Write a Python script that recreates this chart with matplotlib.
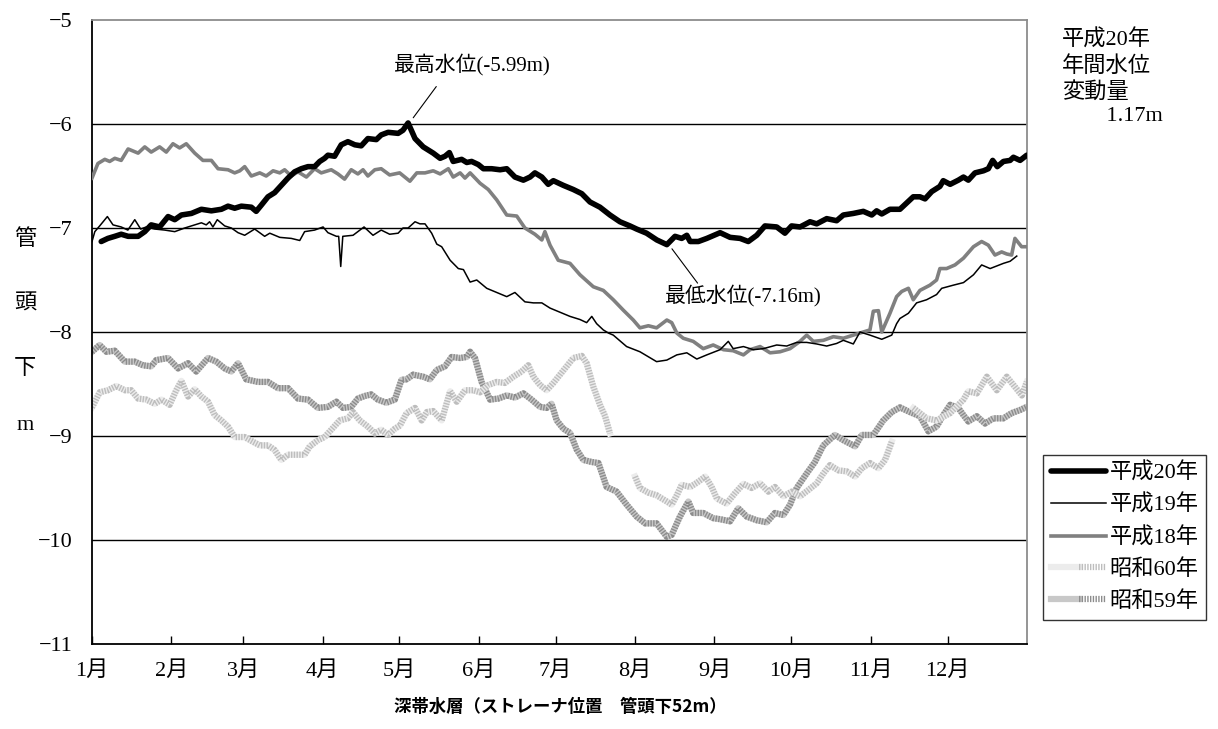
import numpy as np
import matplotlib
matplotlib.use('Agg')
import matplotlib.pyplot as plt
from matplotlib.legend_handler import HandlerTuple

plt.rcParams['font.family'] = ['Liberation Serif', 'Noto Sans CJK JP']

nan = np.nan

# day of year (0 = 1月1日), water level below pipe head [m]
h20_days = [3.6, 6.2, 8.9, 11.4, 14.1, 18.0, 20.6, 23.1, 26.4, 29.7, 32.3, 34.9, 38.8, 42.7, 46.6,
            50.5, 53.1, 55.7, 58.3, 62.2, 64.1, 66.1, 68.7, 71.3, 73.9, 76.5, 79.1, 81.7, 84.3, 86.9,
            88.9, 90.8, 92.1, 94.7, 97.3, 99.9, 102.6, 105.1, 107.7, 111.0, 112.9, 115.6, 119.5, 121.4,
            123.4, 126.1, 129.3, 133.2, 135.9, 137.8, 139.5, 141.0, 144.3, 146.3, 148.2, 150.8, 152.8,
            156.0, 159.3, 161.9, 165.1, 168.4, 171.0, 172.9, 175.6, 178.1, 180.1, 184.0, 187.9, 191.2,
            194.4, 198.3, 202.2, 206.1, 210.0, 212.6, 216.5, 220.5, 224.4, 227.6, 230.2, 232.2, 233.5,
            236.7, 240.0, 245.2, 249.1, 253.0, 256.2, 259.5, 262.7, 267.3, 270.5, 273.1, 276.4, 280.3,
            282.9, 286.8, 290.7, 293.3, 297.2, 301.1, 304.4, 306.3, 308.3, 311.5, 315.4, 318.0, 320.6,
            323.2, 325.2, 327.8, 331.0, 332.3, 335.0, 338.2, 340.2, 342.1, 344.7, 348.0, 349.9, 351.6,
            353.4, 355.8, 358.4, 359.7, 362.3, 364.9]
h20_vals = [-7.13, -7.10, -7.08, -7.06, -7.08, -7.08, -7.035, -6.97, -6.99, -6.89, -6.92, -6.875, -6.86,
            -6.82, -6.835, -6.82, -6.79, -6.81, -6.79, -6.80, -6.84, -6.78, -6.70, -6.66, -6.59, -6.52,
            -6.46, -6.43, -6.41, -6.41, -6.36, -6.33, -6.30, -6.31, -6.20, -6.17, -6.20, -6.21, -6.14,
            -6.15, -6.105, -6.08, -6.09, -6.06, -5.99, -6.14, -6.22, -6.28, -6.33, -6.31, -6.275, -6.36,
            -6.34, -6.37, -6.36, -6.39, -6.43, -6.43, -6.44, -6.43, -6.51, -6.54, -6.51, -6.47, -6.51,
            -6.58, -6.545, -6.59, -6.63, -6.67, -6.75, -6.80, -6.875, -6.94, -6.98, -7.01, -7.05, -7.115,
            -7.16, -7.08, -7.10, -7.07, -7.13, -7.13, -7.10, -7.045, -7.09, -7.10, -7.13, -7.07, -6.98,
            -6.99, -7.05, -6.98, -6.99, -6.94, -6.96, -6.91, -6.93, -6.875, -6.86, -6.84, -6.875, -6.835,
            -6.865, -6.82, -6.82, -6.76, -6.70, -6.70, -6.72, -6.65, -6.60, -6.545, -6.58, -6.54, -6.51,
            -6.54, -6.47, -6.45, -6.43, -6.35, -6.41, -6.36, -6.35, -6.32, -6.35, -6.30]

h19_days = [0, 1.1, 3.0, 6.0, 8.2, 11.4, 14.0, 16.7, 19.0, 21.2, 24.5, 28.4, 32.3, 36.2, 40.1, 42.7,
            44.6, 45.9, 47.2, 48.9, 51.8, 54.4, 57.0, 59.6, 63.5, 67.4, 69.4, 73.3, 77.8, 81.1, 83.0,
            86.9, 90.2, 92.1, 95.4, 96.3, 97.1, 97.9, 101.9, 106.2, 109.7, 112.9, 116.2, 119.5, 121.4,
            123.4, 126.1, 128.0, 130.0, 132.6, 134.6, 136.5, 139.8, 143.0, 145.0, 147.6, 150.2, 154.1,
            158.0, 161.9, 165.1, 169.0, 172.3, 175.6, 178.8, 182.7, 186.6, 190.5, 193.1, 195.1, 197.0,
            199.6, 201.6, 203.5, 208.7, 213.9, 220.4, 224.4, 228.3, 232.2, 236.1, 240.0, 245.2, 248.4,
            250.3, 254.3, 258.2, 262.1, 267.3, 271.2, 275.1, 279.0, 282.9, 286.8, 290.7, 293.3, 297.2,
            299.8, 303.7, 308.3, 312.2, 314.1, 315.4, 318.7, 321.9, 325.8, 329.7, 331.7, 336.2, 340.2,
            344.1, 347.3, 350.6, 353.2, 355.8, 358.4, 361.0]
h19_vals = [-7.13, -7.035, -6.98, -6.89, -6.97, -6.99, -7.02, -6.92, -7.01, -6.99, -7.01, -7.02, -7.035,
            -7.00, -6.97, -6.95, -6.97, -6.94, -6.99, -6.92, -6.98, -7.00, -7.045, -7.07, -7.01, -7.08,
            -7.05, -7.09, -7.10, -7.12, -7.035, -7.02, -6.99, -7.045, -7.08, -7.08, -7.37, -7.08, -7.07,
            -6.99, -7.07, -7.02, -7.06, -7.05, -7.00, -7.00, -6.94, -6.96, -6.96, -7.05, -7.155, -7.18,
            -7.31, -7.39, -7.40, -7.52, -7.50, -7.58, -7.62, -7.66, -7.62, -7.71, -7.72, -7.72, -7.77,
            -7.81, -7.85, -7.88, -7.91, -7.85, -7.92, -7.98, -8.01, -8.03, -8.14, -8.19, -8.285, -8.27,
            -8.22, -8.20, -8.26, -8.22, -8.17, -8.09, -8.16, -8.14, -8.17, -8.16, -8.125, -8.135, -8.10,
            -8.10, -8.115, -8.135, -8.11, -8.08, -8.115, -8.00, -8.03, -8.07, -8.03, -7.92, -7.87, -7.82,
            -7.72, -7.69, -7.64, -7.58, -7.55, -7.525, -7.45, -7.355, -7.39, -7.365, -7.34, -7.32, -7.27]

h18_days = [0, 2.3, 5.0, 6.9, 8.9, 11.4, 14.1, 18.0, 20.6, 23.1, 26.4, 29.0, 31.6, 34.2, 36.8, 40.1,
            43.3, 46.6, 49.2, 53.1, 55.7, 57.7, 59.6, 62.2, 65.5, 68.0, 70.7, 73.3, 75.2, 77.8, 80.4,
            83.7, 86.9, 89.5, 93.4, 96.0, 98.6, 101.2, 103.8, 105.8, 107.7, 110.4, 112.9, 116.2, 120.1,
            124.1, 126.8, 130.0, 133.2, 135.9, 139.1, 141.0, 143.7, 145.6, 147.6, 151.5, 154.7, 158.0,
            161.9, 165.8, 169.0, 172.9, 175.6, 176.8, 178.8, 182.0, 186.6, 190.5, 195.7, 199.6, 203.5,
            207.4, 211.3, 213.9, 217.2, 220.4, 224.4, 226.3, 228.3, 230.8, 234.7, 238.6, 242.5, 246.5,
            250.3, 254.3, 256.9, 260.8, 264.7, 268.6, 272.5, 276.4, 279.0, 281.6, 285.5, 289.4, 293.3,
            297.2, 301.1, 303.7, 305.0, 307.0, 308.3, 311.5, 314.1, 316.1, 318.7, 320.6, 323.2, 327.1,
            329.7, 331.0, 333.6, 336.9, 340.2, 344.1, 347.3, 349.9, 352.5, 355.1, 357.1, 359.0, 360.3,
            362.9, 364.9]
h18_vals = [-6.52, -6.38, -6.34, -6.36, -6.33, -6.35, -6.24, -6.28, -6.22, -6.27, -6.22, -6.27, -6.19,
            -6.23, -6.19, -6.28, -6.35, -6.35, -6.43, -6.44, -6.47, -6.45, -6.41, -6.50, -6.47, -6.50,
            -6.45, -6.47, -6.44, -6.50, -6.46, -6.51, -6.43, -6.47, -6.44, -6.48, -6.53, -6.44, -6.48,
            -6.44, -6.50, -6.44, -6.43, -6.49, -6.47, -6.55, -6.47, -6.47, -6.45, -6.48, -6.43, -6.51,
            -6.47, -6.52, -6.47, -6.57, -6.63, -6.73, -6.875, -6.885, -7.00, -7.06, -7.115, -7.035,
            -7.165, -7.31, -7.34, -7.45, -7.565, -7.60, -7.69, -7.79, -7.885, -7.96, -7.94, -7.96,
            -7.885, -7.91, -8.01, -8.06, -8.09, -8.16, -8.125, -8.17, -8.18, -8.22, -8.17, -8.14, -8.20,
            -8.19, -8.16, -8.09, -8.03, -8.09, -8.08, -8.045, -8.06, -8.03, -8.00, -7.98, -7.80, -7.795,
            -8.00, -7.82, -7.66, -7.61, -7.58, -7.69, -7.60, -7.55, -7.50, -7.39, -7.39, -7.355, -7.29,
            -7.18, -7.13, -7.165, -7.26, -7.23, -7.25, -7.26, -7.10, -7.18, -7.18]

s60_days = [0, 3.0, 6.2, 9.5, 12.8, 15.3, 18.0, 21.2, 24.5, 27.1, 30.3, 32.9, 34.9, 37.5, 40.1, 42.7,
            45.3, 47.9, 50.5, 53.1, 55.7, 59.6, 62.8, 65.5, 68.7, 71.3, 73.9, 76.5, 80.4, 83.0, 85.0,
            88.2, 90.8, 93.4, 96.7, 99.9, 101.9, 104.5, 107.7, 110.4, 112.9, 115.6, 118.2, 120.2, 122.8,
            126.1, 128.7, 130.7, 133.2, 136.5, 139.8, 142.4, 145.6, 148.8, 151.5, 154.7, 158.0, 161.2,
            164.5, 167.7, 170.3, 172.3, 174.9, 177.5, 180.1, 182.7, 185.3, 187.9, 191.2, 193.1, 195.7,
            198.3, 200.3, 202.2, 207.0,
            212.0, 213.9, 217.2, 220.4, 224.4, 226.3, 228.3, 230.2, 233.5, 236.1, 239.4, 241.9, 243.9,
            247.7, 251.0, 254.3, 257.5, 260.8, 264.0, 266.6, 269.9, 273.1, 276.4, 279.6, 282.9, 285.5,
            288.1, 291.3, 294.6, 297.9, 300.5, 303.7, 307.0, 309.6, 312.2, 316.0,
            320.6, 325.8, 329.7, 335.0, 340.2, 342.1, 345.4, 349.3, 353.2, 357.1, 363.0, 364.9]
s60_vals = [-8.725, -8.58, -8.56, -8.52, -8.56, -8.56, -8.64, -8.65, -8.69, -8.65, -8.70, -8.56, -8.47,
            -8.62, -8.55, -8.62, -8.67, -8.80, -8.85, -8.91, -9.01, -9.01, -9.055, -9.09, -9.09, -9.135,
            -9.23, -9.18, -9.18, -9.18, -9.10, -9.04, -9.01, -8.94, -8.85, -8.83, -8.77, -8.85, -8.91,
            -8.975, -8.94, -8.99, -8.93, -8.90, -8.78, -8.73, -8.85, -8.77, -8.76, -8.85, -8.57, -8.67,
            -8.56, -8.56, -8.58, -8.51, -8.48, -8.49, -8.43, -8.38, -8.32, -8.43, -8.51, -8.56, -8.49,
            -8.41, -8.33, -8.25, -8.23, -8.30, -8.525, -8.70, -8.81, -8.975, nan,
            -9.39, -9.50, -9.545, -9.57, -9.63, -9.66, -9.57, -9.47, -9.49, -9.45, -9.39, -9.49, -9.60,
            -9.65, -9.55, -9.46, -9.50, -9.455, -9.535, -9.49, -9.58, -9.535, -9.58, -9.52, -9.455,
            -9.36, -9.28, -9.33, -9.34, -9.39, -9.31, -9.26, -9.31, -9.23, -9.055, nan,
            -8.73, -8.83, -8.85, -8.78, -8.65, -8.57, -8.59, -8.43, -8.56, -8.43, -8.61, -8.48]

s59_days = [0, 3.0, 5.6, 8.9, 12.8, 16.7, 19.9, 23.1, 25.1, 29.7, 33.6, 37.5, 40.7, 45.3, 48.5, 51.8,
            54.4, 57.0, 60.2, 64.8, 68.7, 72.6, 76.5, 80.4, 84.3, 88.2, 92.1, 95.4, 98.0, 101.2, 103.8,
            106.5, 109.0, 111.6, 114.9, 118.2, 120.8, 122.8, 125.4, 129.3, 131.9, 134.6, 137.8, 140.4,
            143.7, 146.3, 147.6, 149.5, 152.1, 155.4, 158.6, 161.9, 165.1, 168.4, 171.6, 174.9, 177.5,
            179.4, 181.4, 184.0, 186.6, 189.2, 191.8, 195.1, 197.7, 200.9, 204.8, 208.7, 212.6, 215.9,
            220.4, 224.4, 226.3, 229.5, 232.8, 234.7, 238.6, 242.5, 245.2, 249.1, 252.3, 255.6, 259.5,
            263.4, 266.6, 269.9, 272.5, 275.1, 279.0, 282.2, 285.5, 290.0, 293.3, 297.9, 300.5, 305.0,
            308.9, 312.2, 315.4, 319.3, 323.2, 326.5, 329.7, 332.3, 335.0, 338.2, 340.2, 342.1, 345.4,
            348.6, 351.9, 355.8, 359.0, 362.3, 364.9]
s59_vals = [-8.19, -8.125, -8.19, -8.18, -8.285, -8.285, -8.32, -8.33, -8.27, -8.25, -8.35, -8.30,
            -8.38, -8.25, -8.285, -8.35, -8.38, -8.30, -8.455, -8.48, -8.48, -8.54, -8.54, -8.64, -8.65,
            -8.73, -8.72, -8.67, -8.73, -8.72, -8.64, -8.615, -8.60, -8.65, -8.68, -8.65, -8.46, -8.455,
            -8.41, -8.43, -8.455, -8.365, -8.33, -8.24, -8.25, -8.24, -8.19, -8.25, -8.48, -8.65, -8.64,
            -8.61, -8.63, -8.59, -8.65, -8.72, -8.73, -8.69, -8.85, -8.93, -8.97, -9.13, -9.23, -9.25,
            -9.26, -9.49, -9.535, -9.66, -9.775, -9.84, -9.84, -9.97, -9.95, -9.775, -9.63, -9.74, -9.74,
            -9.79, -9.80, -9.82, -9.695, -9.775, -9.81, -9.83, -9.74, -9.76, -9.66, -9.50, -9.36, -9.25,
            -9.09, -8.99, -9.04, -9.10, -8.99, -8.99, -8.85, -8.77, -8.725, -8.77, -8.81, -8.955, -8.91,
            -8.80, -8.70, -8.73, -8.80, -8.86, -8.81, -8.88, -8.83, -8.83, -8.78, -8.75, -8.72]

month_starts = [0, 31, 59, 90, 120, 151, 181, 212, 243, 273, 304, 334]
month_labels = ['1月', '2月', '3月', '4月', '5月', '6月', '7月', '8月', '9月', '10月', '11月', '12月']
y_ticks = [-11, -10, -9, -8, -7, -6, -5]
grid_levels = [-10, -9, -8, -7, -6]


def textured(ax, x, y, base, stripe, lw=4.5):
    # Excel-like patterned line: solid base with a fine dash pattern on top
    l1, = ax.plot(x, y, color=base, lw=lw, solid_joinstyle='round', zorder=2)
    l2, = ax.plot(x, y, color=stripe, lw=lw, linestyle=(0, (0.22, 0.22)),
                  dash_capstyle='butt', zorder=2)
    return (l1, l2)


fig = plt.figure(figsize=(12.18, 7.29), dpi=100)
ax = fig.add_axes([92 / 1218, 1 - 644 / 729, 935 / 1218, 624 / 729])

for g in grid_levels:
    ax.axhline(g, color='black', lw=1.0, zorder=1)

s59 = textured(ax, s59_days, s59_vals, '#c8c8c8', '#8c8c8c')
s60 = textured(ax, s60_days, s60_vals, '#ececec', '#bdbdbd')
h18, = ax.plot(h18_days, h18_vals, color='#808080', lw=2.6, zorder=3)
h19, = ax.plot(h19_days, h19_vals, color='black', lw=1.1, zorder=4)
h20, = ax.plot(h20_days, h20_vals, color='black', lw=4.0, zorder=5,
               solid_joinstyle='round', solid_capstyle='round')

ax.set_xlim(0, 365)
ax.set_ylim(-11, -5)
ax.set_xticks(month_starts)
ax.set_xticklabels(month_labels)
ax.set_yticks(y_ticks)
ax.tick_params(axis='x', direction='in', length=6, width=1, pad=12, labelsize=16)
ax.tick_params(axis='y', length=0, pad=14, labelsize=16)
for s in ['top', 'right']:
    ax.spines[s].set_color('#8c8c8c')
    ax.spines[s].set_linewidth(1.3)
for s in ['left', 'bottom']:
    ax.spines[s].set_color('black')
    ax.spines[s].set_linewidth(1.3)

# max / min annotations
i_max = int(np.argmax(h20_vals))
i_min = int(np.argmin(h20_vals))
ax.annotate('', xy=(h20_days[i_max] + 2, h20_vals[i_max] + 0.05),
            xytext=(h20_days[i_max] + 11, h20_vals[i_max] + 0.35),
            arrowprops=dict(arrowstyle='-', lw=0.8, color='black', shrinkA=0, shrinkB=0))
ax.text(h20_days[i_max] + 25, h20_vals[i_max] + 0.56, '最高水位(-5.99m)',
        ha='center', va='center', fontsize=15)
ax.annotate('', xy=(h20_days[i_min] + 2, h20_vals[i_min] - 0.04),
            xytext=(h20_days[i_min] + 12, h20_vals[i_min] - 0.37),
            arrowprops=dict(arrowstyle='-', lw=0.8, color='black', shrinkA=0, shrinkB=0))
ax.text(h20_days[i_min] + 30, h20_vals[i_min] - 0.49, '最低水位(-7.16m)',
        ha='center', va='center', fontsize=15)

# y label, written vertically
for ch, yy in zip(['管', '頭', '下', 'm'], [240, 305, 370, 425]):
    fig.text(25 / 1218, 1 - yy / 729, ch, ha='center', va='center', fontsize=16)

fig.text(560 / 1218, 1 - 707 / 729, '深帯水層（ストレーナ位置　管頭下52m）',
         ha='center', va='center', fontsize=12.5, family='Noto Sans CJK JP',
         fontweight='bold')

rng = max(h20_vals) - min(h20_vals)
fig.text(1062 / 1218, 1 - 30 / 729, '平成20年\n年間水位\n変動量\n\u3000\u3000%.2fm' % rng,
         ha='left', va='top', fontsize=16, linespacing=1.3)

leg = fig.legend([h20, h19, h18, s60, s59],
                 ['平成20年', '平成19年', '平成18年', '昭和60年', '昭和59年'],
                 handler_map={tuple: HandlerTuple(ndivide=None, pad=0)},
                 loc='upper left', bbox_to_anchor=(1043 / 1218, 1 - 455 / 729),
                 borderaxespad=0, frameon=True, fancybox=False, edgecolor='black',
                 fontsize=16, handlelength=2.5, handletextpad=0.15, labelspacing=0.5,
                 borderpad=0.35)
leg.get_frame().set_linewidth(1.0)

fig.savefig('out.png', dpi=100)
